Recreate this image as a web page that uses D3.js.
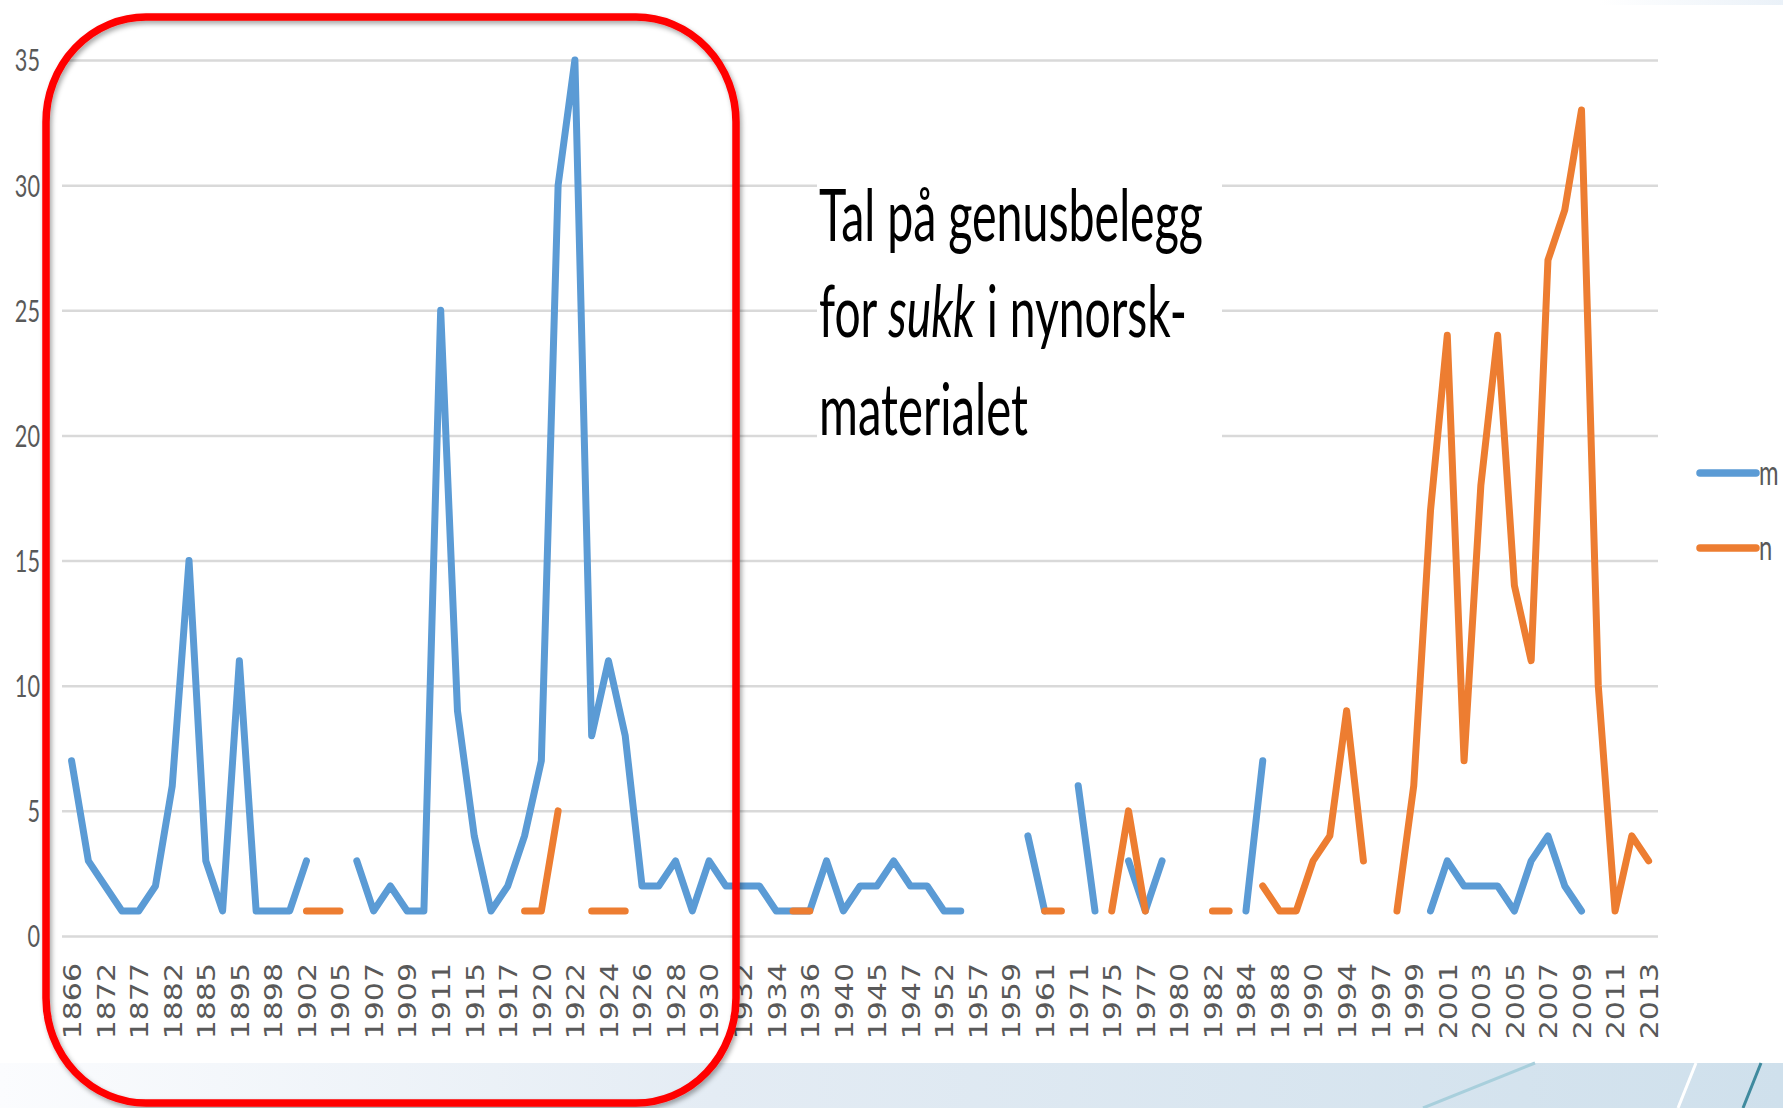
<!DOCTYPE html>
<html><head><meta charset="utf-8">
<script src="https://cdn.jsdelivr.net/npm/d3@7"></script>
<style>html,body{margin:0;padding:0;background:#fff;overflow:hidden}</style>
</head><body>
<svg id="chart" width="1783" height="1108"></svg>
<script>
// ---- data ----
const years = [
"1866","1869","1872","1875","1877","1880","1882","1884","1885","1890",
"1895","1896","1898","1900","1902","1904","1905","1906","1907","1908",
"1909","1910","1911","1913","1915","1916","1917","1919","1920","1921",
"1922","1923","1924","1925","1926","1927","1928","1929","1930","1931",
"1932","1933","1934","1935","1936","1938","1940","1943","1945","1946",
"1947","1950","1952","1955","1957","1958","1959","1960","1961","1965",
"1971","1973","1975","1976","1977","1978","1980","1981","1982","1983",
"1984","1986","1988","1989","1990","1992","1994","1995","1997","1998",
"1999","2000","2001","2002","2003","2004","2005","2006","2007","2008",
"2009","2010","2011","2012","2013"];
const _ = null;
const mValues = [
7,3,2,1,1,2,6,15,3,1,
11,1,1,1,3,_,_,3,1,2,
1,1,25,9,4,1,2,4,7,30,
35,8,11,8,2,2,3,1,3,2,
2,2,1,1,1,3,1,2,2,3,
2,2,1,1,_,_,_,4,1,_,
6,1,_,3,1,3,_,_,_,_,
1,7,_,_,_,_,_,_,_,_,
_,1,3,2,2,2,1,3,4,2,
1,_,_,_,_];
const nValues = [
_,_,_,_,_,_,_,_,_,_,
_,_,_,_,1,1,1,_,_,_,
_,_,_,_,_,_,_,1,1,5,
_,1,1,1,_,_,_,_,_,_,
_,_,_,1,1,_,_,_,_,_,
_,_,_,_,_,_,_,_,1,1,
_,_,1,5,1,_,_,_,1,1,
_,2,1,1,3,4,9,3,_,1,
6,17,24,7,18,24,14,11,27,29,
33,10,1,4,3];
const yTicks = [0,5,10,15,20,25,30,35];
const xTickYears = years.filter((d,i)=>i%2===0);
const seriesNames = ["m","n"];
const seriesColors = ["#5b9bd5","#ed7d31"];
const titleLines = [
  [{t:"Tal på genusbelegg",i:false}],
  [{t:"for ",i:false},{t:"sukk",i:true},{t:" i nynorsk-",i:false}],
  [{t:"materialet",i:false}]
];

// ---- drawing ----
const svg = d3.select("#chart");
const defs = svg.append("defs");
const bg = defs.append("linearGradient").attr("id","bandGrad").attr("x1","0").attr("x2","1").attr("y1","0").attr("y2","0");
bg.append("stop").attr("offset","0").attr("stop-color","#fbfcfe");
bg.append("stop").attr("offset","0.4").attr("stop-color","#e4ecf4");
bg.append("stop").attr("offset","1").attr("stop-color","#cfe0ec");
const tg = defs.append("linearGradient").attr("id","topGrad").attr("x1","0").attr("x2","1");
tg.append("stop").attr("offset","0").attr("stop-color","#ffffff");
tg.append("stop").attr("offset","1").attr("stop-color","#eaf1f8");
const f = defs.append("filter").attr("id","shadow").attr("x","-5%").attr("y","-5%").attr("width","110%").attr("height","110%");
f.append("feDropShadow").attr("dx",2).attr("dy",3).attr("stdDeviation",2.5).attr("flood-color","#000").attr("flood-opacity",0.35);

// slide decorations
svg.append("rect").attr("x",0).attr("y",1063).attr("width",1783).attr("height",45).attr("fill","url(#bandGrad)");
svg.append("rect").attr("x",1600).attr("y",0).attr("width",183).attr("height",5).attr("fill","url(#topGrad)");
svg.append("line").attr("x1",1423).attr("y1",1108).attr("x2",1535).attr("y2",1063).attr("stroke","#a8cfdc").attr("stroke-width",3);
svg.append("line").attr("x1",1678).attr("y1",1108).attr("x2",1696).attr("y2",1063).attr("stroke","#ffffff").attr("stroke-width",3);
svg.append("line").attr("x1",1743).attr("y1",1108).attr("x2",1761).attr("y2",1063).attr("stroke","#3f8a9e").attr("stroke-width",3);

const x = d3.scalePoint().domain(years).range([63.2,1657]).padding(0.5);
const y = d3.scaleLinear().domain([0,35]).range([936,60]);

// y axis + gridlines
const gy = svg.append("g").attr("transform","translate(62,0)")
  .call(d3.axisLeft(y).tickValues(yTicks).tickSize(-(1658-62)).tickPadding(0));
gy.select(".domain").remove();
gy.selectAll(".tick line").attr("stroke","#d9d9d9").attr("stroke-width",2.5);
gy.selectAll(".tick text")
  .attr("x",0).attr("dy","0.35em").attr("text-anchor","end")
  .attr("transform","translate(-22,0) scale(0.7,1)")
  .style("font-family","Lato, 'Open Sans', sans-serif").style("font-size","31px").attr("fill","#595959");

// x axis labels
const gx = svg.append("g").attr("transform","translate(0,936)")
  .call(d3.axisBottom(x).tickValues(xTickYears).tickSize(0).tickPadding(0));
gx.select(".domain").remove();
gx.selectAll(".tick line").remove();
gx.selectAll(".tick text")
  .attr("y",0).attr("x",0).attr("dy","0.36em").attr("text-anchor","end")
  .attr("transform","translate(0,27) scale(0.82,1) rotate(-90)")
  .style("font-family","'DejaVu Sans', sans-serif").style("font-size","30px").attr("fill","#595959");

// text box
svg.append("rect").attr("x",817).attr("y",110).attr("width",1222-817).attr("height",360).attr("fill","#fff");

// lines
const line = d3.line().defined(d=>d.v!=null).x(d=>x(d.year)).y(d=>y(d.v));
[mValues,nValues].forEach((vals,k)=>{
  svg.append("path")
    .datum(years.map((yr,i)=>({year:yr,v:vals[i]})))
    .attr("d",line).attr("fill","none")
    .attr("stroke",seriesColors[k]).attr("stroke-width",7)
    .attr("stroke-linejoin","round").attr("stroke-linecap","round");
});

// legend
const legY = [473,548];
seriesNames.forEach((nm,k)=>{
  svg.append("line").attr("x1",1700).attr("x2",1756).attr("y1",legY[k]).attr("y2",legY[k])
    .attr("stroke",seriesColors[k]).attr("stroke-width",7.5).attr("stroke-linecap","round");
  svg.append("text").attr("transform",`translate(1759,${legY[k]+12}) scale(0.7,1)`)
    .style("font-family","Lato, 'Open Sans', sans-serif").style("font-size","34px").attr("fill","#595959").text(nm);
});

// title text
const baselines = [241,337,435];
const targets = [384,368,209];
titleLines.forEach((parts,li)=>{
  const g = svg.append("g");
  const t = g.append("text").attr("x",0).attr("y",0)
    .style("font-family","Lato, 'Open Sans', sans-serif").style("font-size","72px").attr("fill","#000");
  parts.forEach(p=>t.append("tspan").text(p.t).style("font-style",p.i?"italic":"normal"));
  const w = t.node().getComputedTextLength();
  g.attr("transform",`translate(819,${baselines[li]}) scale(${targets[li]/w},1)`);
});

// red rounded frame
svg.append("rect").attr("x",46).attr("y",17).attr("width",690).attr("height",1086)
  .attr("rx",100).attr("ry",105).attr("fill","none").attr("stroke","#ff0000").attr("stroke-width",7.5)
  .attr("filter","url(#shadow)");
</script>
</body></html>
